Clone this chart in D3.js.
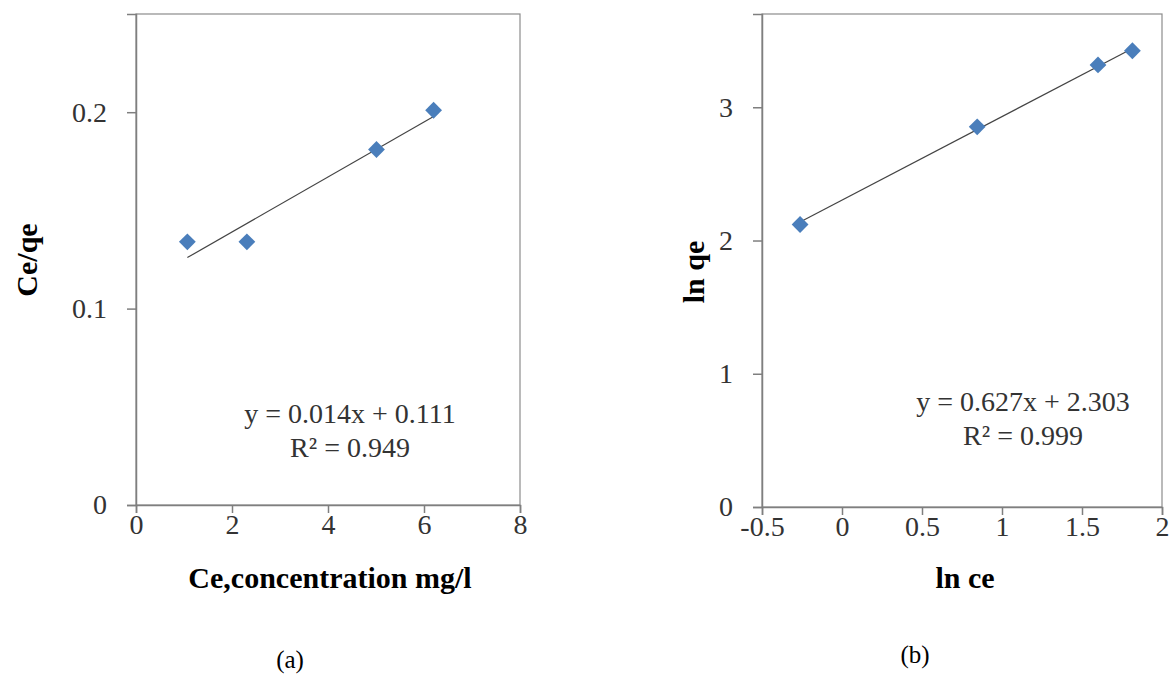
<!DOCTYPE html>
<html>
<head>
<meta charset="utf-8">
<script src="https://cdn.jsdelivr.net/npm/d3@7"></script>
<style>
  body { margin: 0; background: #fff; }
  svg text { font-family: "Liberation Serif", "Times New Roman", Tinos, serif; }
  .tick text { font-size: 28px; fill: #333; }
  .tick line, .domain { stroke: #7f7f7f; }
</style>
</head>
<body>
<svg id="canvas"></svg>
<script>
const W = 1169, H = 675;
const serif = '"Liberation Serif", "Times New Roman", Tinos, serif';

// panel (a): Langmuir, Ce vs Ce/qe
const ceA = [1.07, 2.31, 5.01, 6.2];
const ceqeA = [0.134, 0.134, 0.181, 0.201];
const xTicksA = [0, 2, 4, 6, 8];
const yTicksA = [0, 0.1, 0.2];

// panel (b): Freundlich, ln ce vs ln qe
const lnceB = [-0.262, 0.845, 1.6, 1.815];
const lnqeB = [2.12, 2.853, 3.318, 3.424];
const xTicksB = [-0.5, 0, 0.5, 1, 1.5, 2];
const yTicksB = [0, 1, 2, 3];

// fitted lines shown on the plots
const slopes = [0.014, 0.627];
const intercepts = [0.111, 2.303];
const r2 = [0.949, 0.999];

const xTitles = ["Ce,concentration mg/l", "ln ce"];
const yTitles = ["Ce/qe", "ln qe"];
const captions = ["(a)", "(b)"];

const svg = d3.select("#canvas")
  .attr("width", W)
  .attr("height", H);

const panels = [
  {
    xs: ceA, ys: ceqeA, xTicks: xTicksA, yTicks: yTicksA,
    xDom: [0, 8], yDom: [0, 0.25],
    box: { l: 136, r: 520, t: 14, b: 505 },
    eq: { x: 350, y: 423 },
    xTitleAt: [330, 588], yTitleAt: [26, 260], capAt: [290, 668]
  },
  {
    xs: lnceB, ys: lnqeB, xTicks: xTicksB, yTicks: yTicksB,
    xDom: [-0.5, 2], yDom: [0, 3.7],
    box: { l: 762, r: 1162, t: 14, b: 507 },
    eq: { x: 1023, y: 411 },
    xTitleAt: [965, 588], yTitleAt: [693, 272], capAt: [915, 663]
  }
];

panels.forEach((p, i) => {
  const x = d3.scaleLinear().domain(p.xDom).range([p.box.l, p.box.r]);
  const y = d3.scaleLinear().domain(p.yDom).range([p.box.b, p.box.t]);
  const g = svg.append("g").attr("font-family", serif);

  // plot area frame
  g.append("rect")
    .attr("x", p.box.l)
    .attr("y", p.box.t)
    .attr("width", p.box.r - p.box.l)
    .attr("height", p.box.b - p.box.t)
    .style("fill", "none")
    .style("stroke", "#8c8c8c")
    .style("stroke-width", 1.2);

  g.append("g")
    .attr("transform", `translate(0,${p.box.b})`)
    .call(d3.axisBottom(x).tickValues(p.xTicks).tickSize(8).tickPadding(1).tickFormat(d => String(d)))
    .attr("font-family", serif)
    .attr("font-size", null)
    .call(a => a.selectAll(".domain, line").style("stroke-width", 1.5));

  g.append("g")
    .attr("transform", `translate(${p.box.l},0)`)
    .call(d3.axisLeft(y).tickValues(p.yTicks).tickSize(9).tickPadding(20).tickFormat(d => String(d)))
    .attr("font-family", serif)
    .attr("font-size", null)
    .call(a => a.selectAll(".domain, line").style("stroke-width", 1.5));

  // trend line
  const x0 = d3.min(p.xs), x1 = d3.max(p.xs);
  g.append("line")
    .attr("x1", x(x0))
    .attr("y1", y(slopes[i] * x0 + intercepts[i]))
    .attr("x2", x(x1))
    .attr("y2", y(slopes[i] * x1 + intercepts[i]))
    .style("stroke", "#444")
    .style("stroke-width", 1.2);

  // markers
  g.selectAll("path.pt")
    .data(d3.zip(p.xs, p.ys))
    .enter()
    .append("path")
      .attr("class", "pt")
      .attr("d", d3.symbol(d3.symbolDiamond2, 180))
      .attr("transform", d => `translate(${x(d[0])},${y(d[1])})`)
      .style("fill", "#4a7ebb");

  // equation
  g.append("text")
    .attr("x", p.eq.x)
    .attr("y", p.eq.y)
    .attr("text-anchor", "middle")
    .style("font-size", "28px")
    .style("fill", "#333")
    .text(`y = ${slopes[i].toFixed(3)}x + ${intercepts[i].toFixed(3)}`);
  g.append("text")
    .attr("x", p.eq.x)
    .attr("y", p.eq.y + 34)
    .attr("text-anchor", "middle")
    .style("font-size", "28px")
    .style("fill", "#333")
    .text(`R² = ${r2[i].toFixed(3)}`);

  // axis titles
  g.append("text")
    .attr("x", p.xTitleAt[0])
    .attr("y", p.xTitleAt[1])
    .attr("text-anchor", "middle")
    .style("font-size", "30px")
    .style("font-weight", "bold")
    .text(xTitles[i]);

  g.append("text")
    .attr("transform", `translate(${p.yTitleAt[0]},${p.yTitleAt[1]}) rotate(-90)`)
    .attr("text-anchor", "middle")
    .attr("dy", "0.35em")
    .style("font-size", "30px")
    .style("font-weight", "bold")
    .text(yTitles[i]);

  g.append("text")
    .attr("x", p.capAt[0])
    .attr("y", p.capAt[1])
    .attr("text-anchor", "middle")
    .style("font-size", "25px")
    .text(captions[i]);
});
</script>
</body>
</html>
